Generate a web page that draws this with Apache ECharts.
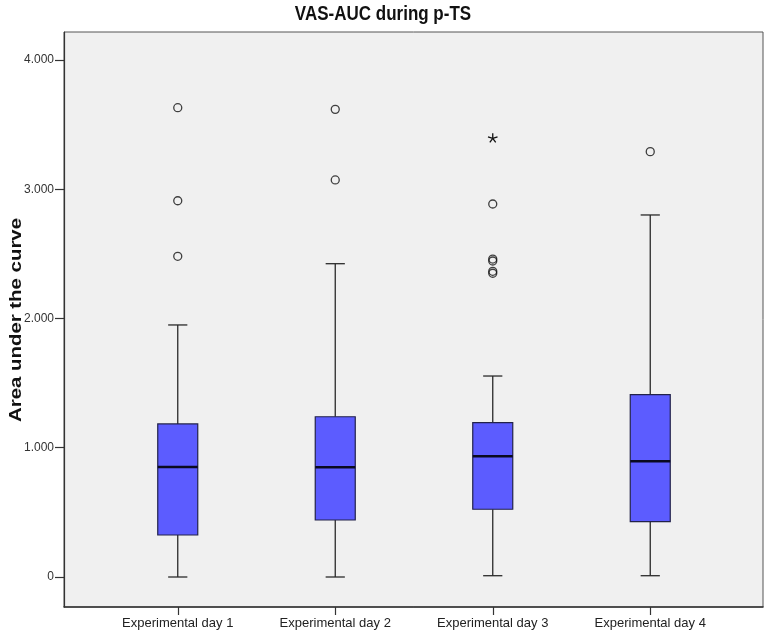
<!DOCTYPE html>
<html>
<head>
<meta charset="utf-8">
<script src="https://cdn.jsdelivr.net/npm/echarts@6/dist/echarts.min.js"></script>
<style>html,body{margin:0;padding:0;background:#fff}#c{width:766px;height:634px}</style>
</head>
<body>
<div id="c"></div>
<script>
var chartTitle = 'VAS-AUC during p-TS';
var yAxisTitle = 'Area under the curve';
var categories = ['Experimental day 1', 'Experimental day 2', 'Experimental day 3', 'Experimental day 4'];
var whiskerLow = [0, 0, 10, 10];
var q1 = [325, 441, 524, 428];
var median = [851, 849, 934, 895];
var q3 = [1184, 1240, 1194, 1411];
var whiskerHigh = [1950, 2424, 1555, 2801];
var outliers = [[0, 3631], [0, 2911], [0, 2481], [1, 3618], [1, 3072], [2, 2886], [2, 2460], [2, 2445], [2, 2365], [2, 2350], [3, 3291]];
var extremes = [[2, 3394]];
var yTicks = [0, 1000, 2000, 3000, 4000];
var yTickLabels = ['0', '1.000', '2.000', '3.000', '4.000'];

var FONT = 'Liberation Sans, Arial, sans-serif';
var boxData = categories.map(function (c, i) {
  return [i, whiskerLow[i], q1[i], median[i], q3[i], whiskerHigh[i]];
});

function renderBox(params, api) {
  var x = api.value(0);
  var band = api.size([1, 0])[0];
  var bw = band * 0.254;
  var cw = bw * 0.48;
  var pLow = api.coord([x, api.value(1)]);
  var pQ1 = api.coord([x, api.value(2)]);
  var pMed = api.coord([x, api.value(3)]);
  var pQ3 = api.coord([x, api.value(4)]);
  var pHigh = api.coord([x, api.value(5)]);
  var cx = pQ1[0];
  var ls = {stroke: '#2a2a2a', lineWidth: 1.3};
  return {
    type: 'group',
    children: [
      {type: 'line', shape: {x1: cx, y1: pLow[1], x2: cx, y2: pQ1[1]}, style: ls},
      {type: 'line', shape: {x1: cx, y1: pQ3[1], x2: cx, y2: pHigh[1]}, style: ls},
      {type: 'line', shape: {x1: cx - cw / 2, y1: pLow[1], x2: cx + cw / 2, y2: pLow[1]}, style: ls},
      {type: 'line', shape: {x1: cx - cw / 2, y1: pHigh[1], x2: cx + cw / 2, y2: pHigh[1]}, style: ls},
      {type: 'rect', shape: {x: cx - bw / 2, y: pQ3[1], width: bw, height: pQ1[1] - pQ3[1]},
        style: {fill: '#5c5cff', stroke: '#22224a', lineWidth: 1.2}},
      {type: 'line', shape: {x1: cx - bw / 2, y1: pMed[1], x2: cx + bw / 2, y2: pMed[1]},
        style: {stroke: '#0a0a20', lineWidth: 2.6}}
    ]
  };
}

function renderStar(params, api) {
  var p = api.coord([api.value(0), api.value(1)]);
  var r = 5;
  var children = [];
  for (var k = 0; k < 5; k++) {
    var a = -Math.PI / 2 + k * 2 * Math.PI / 5;
    children.push({type: 'line', shape: {x1: p[0], y1: p[1], x2: p[0] + r * Math.cos(a), y2: p[1] + r * Math.sin(a)},
      style: {stroke: '#111', lineWidth: 1.3}});
  }
  return {type: 'group', children: children};
}

var chart = echarts.init(document.getElementById('c'), null, {renderer: 'canvas'});
chart.setOption({
  backgroundColor: '#ffffff',
  animation: false,
  graphic: [
    {type: 'text', x: 383, y: 5, scaleY: 1.15,
      style: {text: chartTitle, font: 'bold 17px ' + FONT, fill: '#111', align: 'center', verticalAlign: 'top'}},
    {type: 'text', x: 16, y: 320, rotation: Math.PI / 2, scaleX: 1.2,
      style: {text: yAxisTitle, font: 'bold 17px ' + FONT, fill: '#111', align: 'center', verticalAlign: 'middle'}}
  ],
  grid: [
    {left: 64, right: 3, top: 32, bottom: 27, outerBoundsMode: 'none', containLabel: false,
      show: true, backgroundColor: '#f0f0f0', borderColor: '#555', borderWidth: 1},
    {left: 99, right: 37, top: 32, bottom: 27, outerBoundsMode: 'none', containLabel: false}
  ],
  xAxis: [
    {type: 'value', gridIndex: 0, min: 0, max: 1,
      axisLine: {show: true, onZero: false, lineStyle: {color: '#333', width: 1.6}},
      axisTick: {show: false}, axisLabel: {show: false}, splitLine: {show: false}},
    {type: 'category', gridIndex: 1, data: categories, boundaryGap: true,
      axisLine: {show: false, onZero: false},
      axisTick: {show: true, alignWithLabel: true, length: 8, lineStyle: {color: '#333', width: 1.2}},
      axisLabel: {fontFamily: FONT, fontSize: 13, color: '#222', margin: 10},
      splitLine: {show: false}}
  ],
  yAxis: [
    {type: 'value', gridIndex: 0, min: -232.1, max: 4216.6,
      axisLine: {show: true, onZero: false, lineStyle: {color: '#333', width: 1.2}},
      axisTick: {show: true, length: 9, customValues: yTicks, lineStyle: {color: '#333', width: 1.2}},
      axisLabel: {fontFamily: FONT, fontSize: 12, color: '#333', margin: 10, customValues: yTicks,
        formatter: function (v) { var i = yTicks.indexOf(v); return i >= 0 ? yTickLabels[i] : ''; }},
      splitLine: {show: false}},
    {type: 'value', gridIndex: 1, min: -232.1, max: 4216.6, show: false, splitLine: {show: false}}
  ],
  series: [
    {type: 'custom', xAxisIndex: 1, yAxisIndex: 1, renderItem: renderBox, data: boxData, z: 3},
    {type: 'scatter', xAxisIndex: 1, yAxisIndex: 1, data: outliers, symbol: 'circle', symbolSize: 8,
      itemStyle: {color: 'rgba(0,0,0,0)', borderColor: '#111', borderWidth: 1.3}, z: 4},
    {type: 'custom', xAxisIndex: 1, yAxisIndex: 1, renderItem: renderStar, data: extremes, z: 4}
  ]
});
</script>
</body>
</html>
